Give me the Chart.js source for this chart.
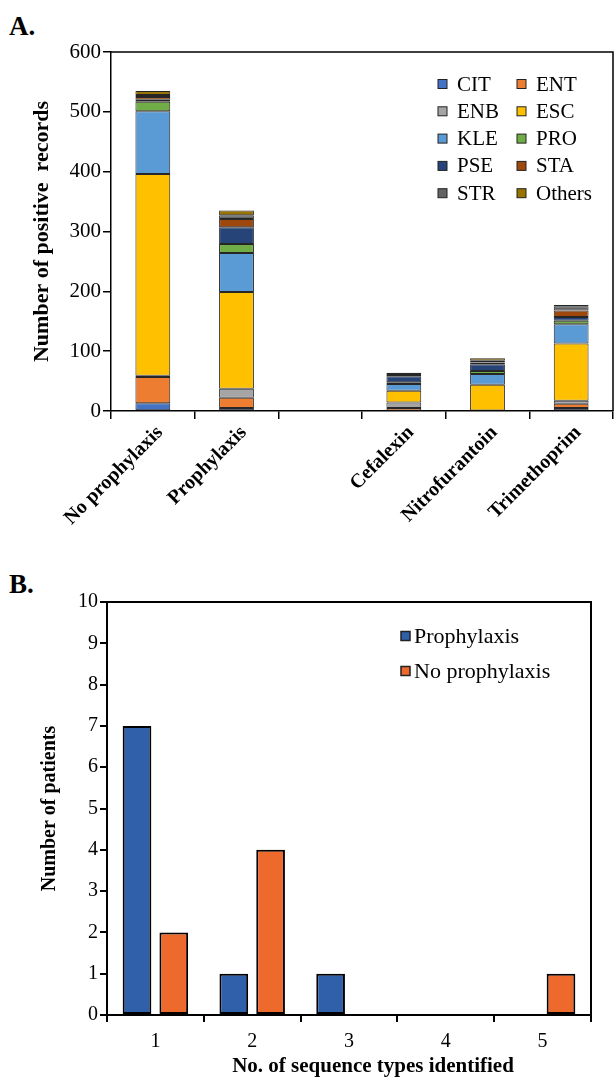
<!DOCTYPE html>
<html>
<head>
<meta charset="utf-8">
<script src="https://cdn.jsdelivr.net/npm/chart.js@4.4.1/dist/chart.umd.min.js"></script>
<style>
html,body{margin:0;padding:0;background:#fff;}
body{width:614px;height:1078px;position:relative;overflow:hidden;font-family:'Liberation Serif','Times New Roman',serif;}
.pl{position:absolute;left:9px;font-weight:bold;font-size:27px;line-height:1;}
#wa{position:absolute;left:0;top:0;width:614px;height:545px;}
#wb{position:absolute;left:0;top:560px;width:614px;height:518px;}
</style>
</head>
<body>
<div class="pl" style="top:13px">A.</div>
<div class="pl" style="top:571px">B.</div>
<div id="wa"><canvas id="ch-a"></canvas></div>
<div id="wb"><canvas id="ch-b"></canvas></div>
<script>
/* panel A: positive records by organism */
const catsA=['No prophylaxis','Prophylaxis','','Cefalexin','Nitrofurantoin','Trimethoprim'];
const yTicksA=[0,100,200,300,400,500,600];
const orgNames=['CIT','ENT','ENB','ESC','KLE','PRO','PSE','STA','STR','Others'];
const orgColors=['#4472C4','#ED7D31','#A5A5A5','#FFC000','#5B9BD5','#70AD47','#264478','#9E480E','#636363','#997300'];
const CIT=[13,5,null,1,0,5];
const ENT=[44,17,null,4,1,7];
const ENB=[2,15,null,9,0,5];
const ESC=[337,162,null,20,43,96];
const KLE=[105,65,null,11,18,32];
const PRO=[16,15,null,3,5,6];
const PSE=[3,28,null,10,11,6];
const STA=[5,14,null,2,3,11];
const STR=[3,6,null,2,3,7];
const OTH=[7,8,null,2,4,2];
const orgSeries=[CIT,ENT,ENB,ESC,KLE,PRO,PSE,STA,STR,OTH];

/* panel B: patients by number of sequence types */
const catsB=['1','2','3','4','5'];
const yTicksB=[0,1,2,3,4,5,6,7,8,9,10];
const proph=[7,1,1,0,0];
const noProph=[2,4,0,0,1];

Chart.defaults.font.family="'Liberation Serif','Times New Roman',serif";
Chart.defaults.color='#000';
Chart.defaults.animation=false;

const frame={id:'frame',afterDatasetsDraw(c,a,o){
    const {ctx,chartArea:ca}=c;
    ctx.save(); ctx.strokeStyle='#000'; ctx.lineWidth=o.width||1.5;
    ctx.beginPath(); ctx.moveTo(ca.left,ca.top); ctx.lineTo(ca.right,ca.top); ctx.lineTo(ca.right,ca.bottom); ctx.stroke();
    ctx.restore();
}};

const boxLegend={id:'boxLegend',afterDraw(c,a,o){
    if (!o || !o.show) return;
    const {ctx,chartArea:ca}=c;
    ctx.save(); ctx.font=o.font; ctx.textBaseline='middle'; ctx.textAlign='left';
    c.data.datasets.forEach((ds,i)=>{
        const col=i%o.cols, row=Math.floor(i/o.cols);
        const x=ca.left+o.x+col*o.colW, y=ca.top+o.y+row*o.rowH;
        ctx.fillStyle=ds.backgroundColor; ctx.fillRect(x,y-o.box/2,o.box,o.box);
        ctx.strokeStyle='#222'; ctx.lineWidth=o.line; ctx.strokeRect(x,y-o.box/2,o.box,o.box);
        ctx.fillStyle='#000'; ctx.fillText(ds.label,x+o.box+o.gap,y+1);
    });
    ctx.restore();
}};

// x-axis caption, set a little right of centre like the source figure
const xCaption={id:'xCaption',afterDraw(c,a,o){
    if (!o || !o.text) return;
    const {ctx,chartArea:ca}=c;
    ctx.save(); ctx.font=o.font; ctx.fillStyle='#000'; ctx.textAlign='center'; ctx.textBaseline='middle';
    ctx.fillText(o.text,(ca.left+ca.right)/2+o.dx,c.height-o.fromBottom);
    ctx.restore();
}};

const fixW=w=>s=>{s.width=w;};
const fixH=h=>s=>{s.height=h;};

new Chart(document.getElementById('ch-a').getContext('2d'),{
    type:'bar',
    data:{labels:catsA,datasets:orgSeries.map((d,i)=>({label:orgNames[i],data:d,backgroundColor:orgColors[i],borderColor:'#262626',borderWidth:1,borderSkipped:false}))},
    options:{
        responsive:true,maintainAspectRatio:false,
        layout:{padding:{top:52,right:1,left:0,bottom:0}},
        datasets:{bar:{categoryPercentage:0.8,barPercentage:0.52}},
        plugins:{legend:{display:false},tooltip:{enabled:false},frame:{width:1.5},
            boxLegend:{show:true,cols:2,x:327,y:32,colW:79,rowH:27.3,box:9,gap:10,line:1,font:"21px 'Liberation Serif'"}},
        scales:{
            x:{stacked:true,afterFit:fixH(134),
               grid:{display:true,offset:true,drawOnChartArea:false,tickLength:8,color:'#000',lineWidth:1.5},
               border:{color:'#000',width:1.5},
               ticks:{minRotation:45,maxRotation:45,autoSkip:false,padding:2,labelOffset:7,font:{size:20,weight:'bold'}}},
            y:{stacked:true,min:0,max:600,afterFit:fixW(111),
               afterBuildTicks:s=>{s.ticks=yTicksA.map(v=>({value:v}));},
               grid:{display:true,drawOnChartArea:false,tickLength:8,color:'#000',lineWidth:1.5},
               border:{color:'#000',width:1.5},
               ticks:{padding:2,font:{size:21}},
               title:{display:true,text:'Number of positive  records',padding:{top:29,bottom:0},font:{size:22,weight:'bold'}}}
        }
    },
    plugins:[frame,boxLegend]
});

new Chart(document.getElementById('ch-b').getContext('2d'),{
    type:'bar',
    data:{labels:catsB,datasets:[
        {label:'Prophylaxis',data:proph,backgroundColor:'#3060AA',borderColor:'#000',borderWidth:2,borderSkipped:false},
        {label:'No prophylaxis',data:noProph,backgroundColor:'#EE6A2C',borderColor:'#000',borderWidth:2,borderSkipped:false}
    ]},
    options:{
        responsive:true,maintainAspectRatio:false,
        layout:{padding:{top:42,right:23,left:0,bottom:0}},
        datasets:{bar:{categoryPercentage:0.76,barPercentage:0.78}},
        plugins:{legend:{display:false},tooltip:{enabled:false},frame:{width:2},
            boxLegend:{show:true,cols:1,x:294,y:34,colW:0,rowH:35,box:9,gap:4,line:1.5,font:"22px 'Liberation Serif'"},
            xCaption:{text:'No. of sequence types identified',font:"bold 21px 'Liberation Serif'",dx:24,fromBottom:11}},
        scales:{
            x:{afterFit:fixH(63),
               grid:{display:true,offset:true,drawOnChartArea:false,tickLength:7,color:'#000',lineWidth:2},
               border:{color:'#000',width:2},
               ticks:{padding:8,font:{size:20}}},
            y:{min:0,max:10,afterFit:fixW(107),
               afterBuildTicks:s=>{s.ticks=yTicksB.map(v=>({value:v}));},
               grid:{display:true,drawOnChartArea:false,tickLength:7,color:'#000',lineWidth:2},
               border:{color:'#000',width:2},
               ticks:{padding:2,font:{size:20}},
               title:{display:true,text:'Number of patients',padding:{top:38,bottom:0},font:{size:20,weight:'bold'}}}
        }
    },
    plugins:[frame,boxLegend,xCaption]
});
</script>
</body>
</html>
